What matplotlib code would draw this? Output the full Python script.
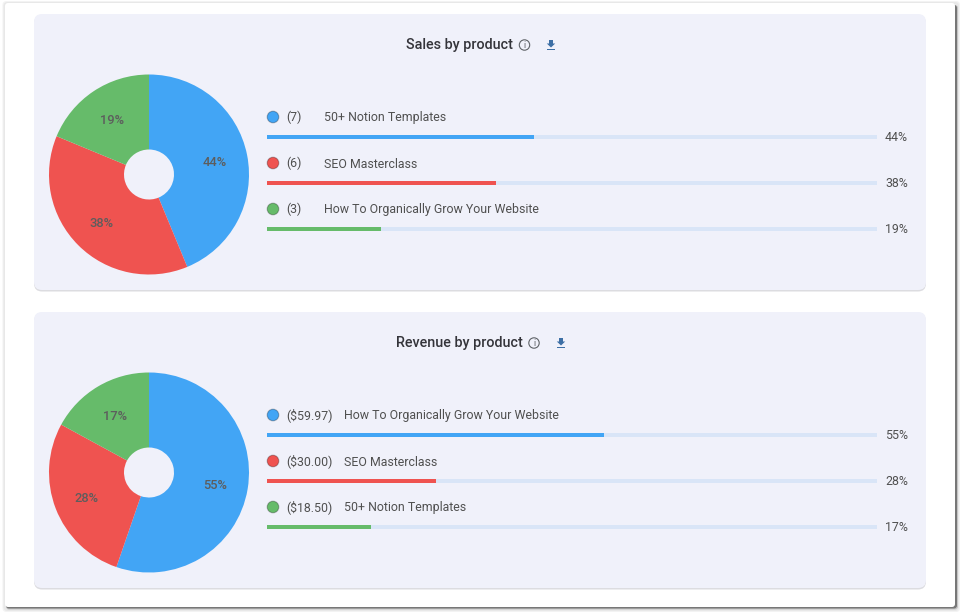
import matplotlib
matplotlib.use("Agg")
import matplotlib.pyplot as plt
from matplotlib.patches import FancyBboxPatch, Circle, Polygon, Rectangle

plt.rcParams['font.family'] = ['Roboto', 'DejaVu Sans']

W, H = 964, 615
BLUE, RED, GREEN = '#42a5f5', '#ef5350', '#66bb6a'
colors = [BLUE, RED, GREEN]
PANEL = '#f0f1fa'

sales_title = 'Sales by product'
sales_counts = [7, 6, 3]
sales_labels = ['(7)', '(6)', '(3)']
sales_names = ['50+ Notion Templates', 'SEO Masterclass', 'How To Organically Grow Your Website']
sales_pct = [43.75, 37.5, 18.75]
sales_pct_labels = ['44%', '38%', '19%']

rev_title = 'Revenue by product'
rev_values = [59.97, 30.00, 18.50]
rev_labels = ['($59.97)', '($30.00)', '($18.50)']
rev_names = ['How To Organically Grow Your Website', 'SEO Masterclass', '50+ Notion Templates']
rev_pct = [55.3, 27.7, 17.0]
rev_pct_labels = ['55%', '28%', '17%']

fig = plt.figure(figsize=(W / 100, H / 100), dpi=100, facecolor='white')
bg = fig.add_axes([0, 0, 1, 1])
bg.set_xlim(0, W)
bg.set_ylim(H, 0)
bg.axis('off')


def rounded(x0, y0, x1, y1, r, **kw):
    bg.add_patch(FancyBboxPatch((x0 + r, y0 + r), x1 - x0 - 2 * r, y1 - y0 - 2 * r,
                                boxstyle=f'round,pad={r},rounding_size={r}', **kw))


# outer card with a soft shadow, heavier to the lower right
rounded(2.5, 1, 960, 612, 4, fc='#f3f3f3', ec='none')
rounded(3.5, 2, 959, 611, 4, fc='#e8e8e8', ec='none')
rounded(6, 5, 958, 609.5, 3, fc='#c4c4c4', ec='none')
rounded(6, 5, 957, 608.5, 3, fc='#777777', ec='none')
rounded(5, 3, 955, 607, 3, fc='white', ec='none')


def panel(y0, y1, title, title_x, info_x, dl_x, values, labels, names, pct, pct_labels,
          name_x, pie_cy):
    rounded(34, y0 + 1.5, 926, y1 + 1.5, 8, fc='#dcdce0', ec='none')
    rounded(34, y0, 926, y1, 8, fc=PANEL, ec='none')

    ty = y0 + 31
    bg.text(title_x, ty + 4.5, title, fontsize=10.4, color='#34343a', ha='left', va='baseline',
            fontweight='medium')
    bg.add_patch(Circle((info_x, ty), 5.2, fc='none', ec='#5f6368', lw=0.8))
    bg.text(info_x, ty, 'i', fontsize=6.5, color='#5f6368', ha='center', va='center')
    # download icon
    c = '#3d6fa5'
    bg.add_patch(Polygon([(dl_x - 2, ty - 5), (dl_x + 2, ty - 5), (dl_x + 2, ty - 1.5),
                          (dl_x + 4.2, ty - 1.5), (dl_x, ty + 2.5), (dl_x - 4.2, ty - 1.5),
                          (dl_x - 2, ty - 1.5)], fc=c, ec='none'))
    bg.add_patch(Rectangle((dl_x - 4.2, ty + 3.6), 8.4, 1.1, fc=c, ec='none'))

    # doughnut
    R = 100
    ax = fig.add_axes([(149 - R) / W, 1 - (pie_cy + R) / H, 2 * R / W, 2 * R / H])
    _, _, autotexts = ax.pie(values, colors=colors, startangle=90, counterclock=False, radius=1,
                             wedgeprops=dict(width=0.75, edgecolor='none', linewidth=0),
                             autopct=lambda p: f'{p:.0f}%', pctdistance=0.67,
                             textprops=dict(fontsize=9.3, color='#5d5d5d', fontweight='medium'))
    for t in autotexts:
        px, py = t.get_position()
        t.set_position((px, py - 0.015))
    ax.set_xlim(-1, 1)
    ax.set_ylim(-1, 1)
    ax.set_aspect('equal')

    # legend rows and progress bars
    for i, (lab, name, p, pl, col) in enumerate(zip(labels, names, pct, pct_labels, colors)):
        ly = y0 + 103 + 46 * i
        by = ly + 20
        bg.add_patch(Circle((273, ly), 5.8, fc=col, ec='#00000045', lw=0.8))
        bg.text(286.5, ly + 4.5, lab, fontsize=8.95, color='#505050', va='baseline', ha='left')
        bg.text(name_x, ly + 4.5, name, fontsize=8.95, color='#505050', va='baseline', ha='left')
        bg.text(885, by + 4, pl, fontsize=8.95, color='#505050', va='baseline', ha='left')
        bax = fig.add_axes([267 / W, 1 - (by + 2.5) / H, 610 / W, 5 / H])
        bax.set_xlim(0, 100)
        bax.set_ylim(0, 1)
        bax.axis('off')
        bax.barh(0.5, 100, height=0.8, color='#d9e5f7', lw=0)
        bax.barh(0.5, p, height=0.8, color=col, lw=0)


panel(14, 290, sales_title, 406, 524.5, 551, sales_counts, sales_labels, sales_names,
      sales_pct, sales_pct_labels, 324.5, 174.5)
panel(312, 588, rev_title, 396, 534, 561, rev_values, rev_labels, rev_names,
      rev_pct, rev_pct_labels, 344.5, 472.5)

fig.savefig('out.png', dpi=100)
